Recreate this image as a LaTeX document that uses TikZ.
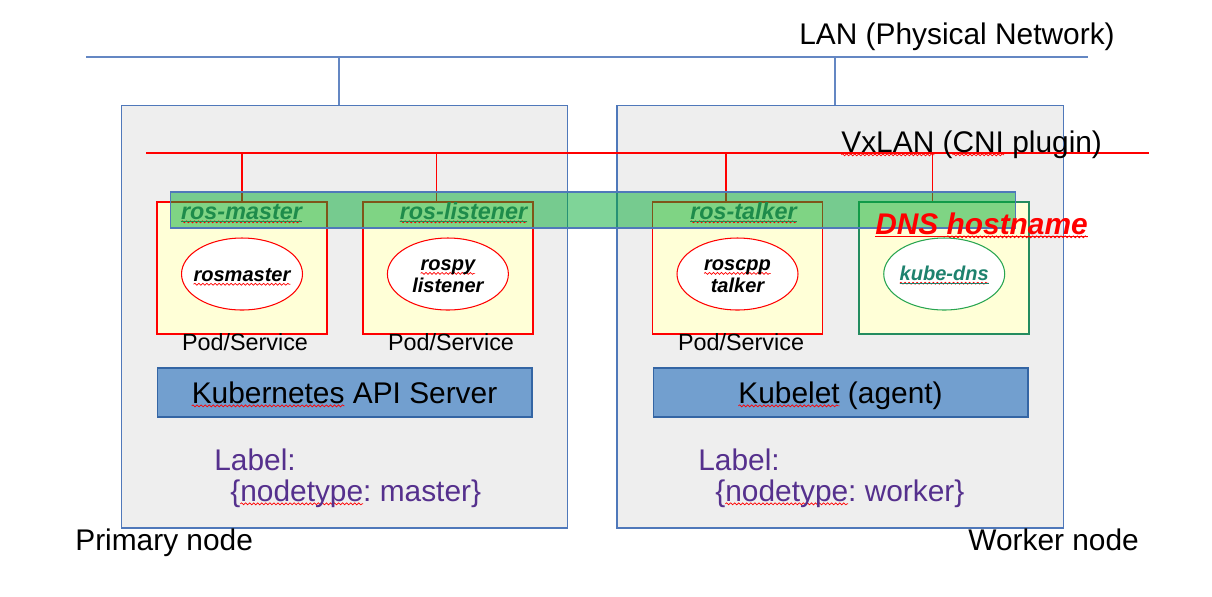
\documentclass[tikz,border=0pt]{standalone}
\usepackage{fontspec}
\setmainfont{Liberation Sans}
\usepackage{xcolor}
\usepackage{tikz}
\usetikzlibrary{shapes.geometric, positioning, calc, decorations.pathmorphing}
\definecolor{hostgray}{RGB}{238,238,238}
\definecolor{hostblue}{RGB}{79,120,186}
\definecolor{lanblue}{RGB}{100,135,195}
\definecolor{podyellow}{RGB}{255,255,215}
\definecolor{svcblue}{RGB}{114,159,207}
\definecolor{svcedge}{RGB}{52,101,164}
\definecolor{taggreen}{RGB}{30,140,75}
\definecolor{dnsgreen}{RGB}{35,140,95}
\definecolor{kubegreen}{RGB}{40,165,80}
\definecolor{dnsteal}{RGB}{30,130,110}
\definecolor{bandgreen}{RGB}{0,170,50}
\definecolor{lblpurple}{RGB}{85,48,141}
\newcommand{\mainsize}{\fontsize{17}{20}\selectfont}
\newcommand{\podsize}{\fontsize{13.3}{16}\selectfont}
\newcommand{\procsize}{\fontsize{11.4}{12.2}\selectfont}
\tikzstyle{host} = [rectangle, draw=hostblue, fill=hostgray, line width=0.6pt, minimum width=8.94cm, minimum height=8.46cm]
\tikzstyle{pod} = [rectangle, draw=red, fill=podyellow, line width=1.1pt, minimum width=3.4cm, minimum height=2.64cm]
\tikzstyle{proc} = [ellipse, draw=red, fill=white, line width=0.6pt, inner sep=0pt, minimum width=2.42cm, minimum height=1.44cm]
\tikzstyle{proctext} = [align=center, inner sep=0pt, font=\bfseries\itshape\procsize]
\tikzstyle{service} = [rectangle, draw=svcedge, fill=svcblue, line width=0.6pt, minimum width=7.5cm, minimum height=0.98cm, text height=13pt, text depth=1pt, font=\mainsize]
\tikzstyle{band} = [rectangle, draw=hostblue, fill=bandgreen, fill opacity=0.5, line width=0.6pt, minimum width=16.92cm, minimum height=0.72cm]
\tikzstyle{tag} = [anchor=base, inner xsep=0pt, text=taggreen, font=\bfseries\itshape\podsize]
\tikzstyle{dnsname} = [anchor=base, inner xsep=0pt, text=red, font=\bfseries\itshape\fontsize{17}{20}\selectfont]
\tikzstyle{svclabel} = [anchor=base, font=\podsize]
\tikzstyle{lbl} = [anchor=base west, inner xsep=0pt, text=lblpurple, font=\mainsize]
\tikzstyle{caption} = [anchor=base west, inner xsep=0pt, font=\mainsize]
\tikzstyle{lan} = [draw=lanblue, line width=0.7pt]
\tikzstyle{vxlan} = [draw=red, line width=0.8pt]
\tikzstyle{squig} = [draw=red, fill=none, line width=0.4pt, decorate, decoration={snake, amplitude=0.55pt, segment length=2.3pt}]
% red wavy mark under a word
\newsavebox{\spellbox}
\newlength{\spelllen}
\newcommand{\spellmark}[1]{\sbox{\spellbox}{#1}\setlength{\spelllen}{\wd\spellbox}\tikz[overlay, baseline=0pt]{\draw[squig] (0pt,-1.6pt) -- (\spelllen,-1.6pt);}\usebox{\spellbox}}
\frenchspacing

\begin{document}
\begin{tikzpicture}[x=0.02cm, y=-0.02cm]
\path[use as bounding box, fill=white] (0,0) rectangle (1212,596);

% Physical hosts
\node[host] (primary) at (344.5,316.5) {};
\node[host, right=0.96cm of primary] (worker) {};

% LAN
\coordinate (lan_w) at (86,57);
\coordinate (lan_e) at (1088,57);
\draw[lan] (lan_w) -- (lan_e);
\draw[lan] ($(primary.north)+(-5.5,0)$) -- ++(0,-48);
\draw[lan] ($(worker.north)+(-5.5,0)$) -- ++(0,-48);
\node[caption] (lan_txt) at (799,44) {LAN (Physical Network)};

% Pods
\node[pod] (master_pod) at (242,268) {};
\node[pod, right=0.68cm of master_pod] (listener_pod) {};
\node[pod] (talker_pod) at (737.5,268) {};
\node[pod, draw=dnsgreen, line width=0.9pt, right=0.70cm of talker_pod] (dns_pod) {};

% VxLAN
\coordinate (vx_w) at (146,153);
\coordinate (vx_e) at (1149,153);
\draw[vxlan] (vx_w) -- (vx_e);
\draw[vxlan] (master_pod.north) -- ++(0,-49);
\draw[vxlan] ($(listener_pod.north)+(-11.5,0)$) -- ++(0,-49);
\draw[vxlan] ($(talker_pod.north)+(-11.5,0)$) -- ++(0,-49);
\draw[vxlan] ($(dns_pod.north)+(-11.5,0)$) -- ++(0,-49);
\node[caption] (vx_txt) at (841,152) {\spellmark{VxLAN} (\spellmark{CNI} plugin)};

% Service name band
\node[band] (dns_band) at (593,210) {};
\node[tag] (master_tag) at (241.5,219) {\underline{\spellmark{ros-master}}};
\node[tag] (listener_tag) at (463.5,219) {\underline{\spellmark{ros-listener}}};
\node[tag] (talker_tag) at (743.5,219) {\underline{\spellmark{ros-talker}}};
\node[dnsname] (dns_tag) at (981.5,234) {\underline{DNS \spellmark{hostname}}};

% Processes
\node[proc] (rosmaster) at ($(master_pod.center)+(0,6)$) {};
\node[proc] (listener) at ($(listener_pod.center)+(0,6)$) {};
\node[proc] (talker) at ($(talker_pod.center)+(0,6)$) {};
\node[proc, draw=kubegreen] (kubedns) at ($(dns_pod.center)+(0,6)$) {};
\node[proctext] (rosmaster_txt) at ($(rosmaster.center)+(0,1)$) {\spellmark{rosmaster}};
\node[proctext] (listener_txt) at ($(listener.center)+(0,2)$) {\spellmark{rospy}\\listener};
\node[proctext] (talker_txt) at ($(talker.center)+(0,2)$) {\spellmark{roscpp}\\talker};
\node[proctext, text=dnsteal] (kubedns_txt) at ($(kubedns.center)+(0,1)$) {\underline{\spellmark{kube-dns}}};

\node[svclabel] (master_svc) at (245,350) {Pod/Service};
\node[svclabel] (listener_svc) at (451,350) {Pod/Service};
\node[svclabel] (talker_svc) at (741,350) {Pod/Service};

% Kubernetes components
\node[service] (api) at (344.5,392.5) {\spellmark{Kubernetes} API Server};
\node[service] (kubelet) at (840.5,392.5) {\spellmark{Kubelet} (agent)};

% Node labels
\node[lbl] (master_lbl) at (214,470) {Label:};
\node[lbl] (master_val) at (230,501) {\{\spellmark{nodetype}: master\}};
\node[lbl] (worker_lbl) at (698,470) {Label:};
\node[lbl] (worker_val) at (715,501) {\{\spellmark{nodetype}: worker\}};

\node[caption] (primary_txt) at (75,550) {Primary node};
\node[caption] (worker_txt) at (968,550) {Worker node};

\end{tikzpicture}
\end{document}
